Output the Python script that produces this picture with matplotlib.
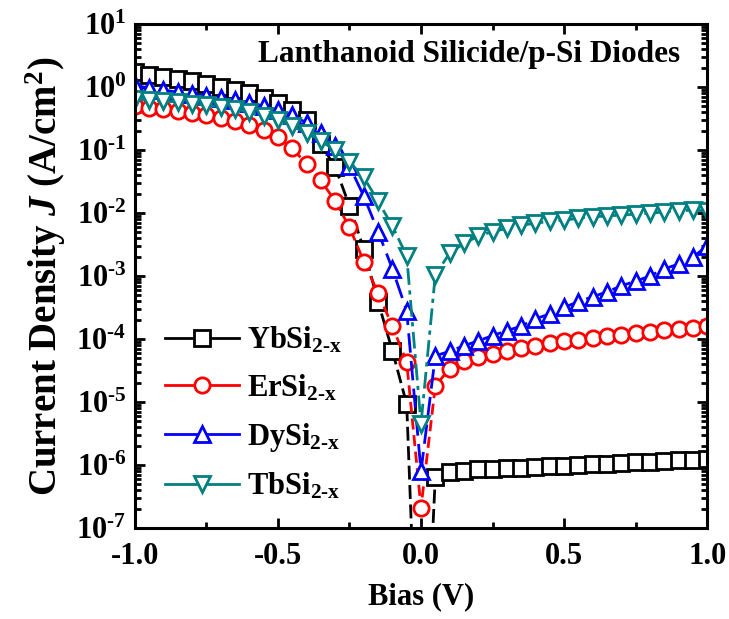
import numpy as np
import matplotlib
matplotlib.use("Agg")
import matplotlib.pyplot as plt
from matplotlib.lines import Line2D
from matplotlib.ticker import MultipleLocator, LogLocator, FuncFormatter, NullFormatter

plt.rcParams["font.family"] = "Liberation Serif"
plt.rcParams["font.weight"] = "bold"
plt.rcParams["mathtext.fontset"] = "custom"
plt.rcParams["mathtext.rm"] = "Liberation Serif:bold"
plt.rcParams["mathtext.bf"] = "Liberation Serif:bold"
plt.rcParams["mathtext.it"] = "Liberation Serif:bold:italic"
plt.rcParams["axes.unicode_minus"] = False

# ── bias points (V) ─────────────────────────────────────────────────────────
bias = [-1.00, -0.95, -0.90, -0.85, -0.80, -0.75, -0.70, -0.65, -0.60, -0.55,
        -0.50, -0.45, -0.40, -0.35, -0.30, -0.25, -0.20, -0.15, -0.10, -0.05,
        0.00, 0.05, 0.10, 0.15, 0.20, 0.25, 0.30, 0.35, 0.40, 0.45,
        0.50, 0.55, 0.60, 0.65, 0.70, 0.75, 0.80, 0.85, 0.90, 0.95, 1.00]

# ── current density (A/cm2) ────────────────────────────────────────────────
j_yb = [1.73, 1.55, 1.44, 1.34, 1.24, 1.12, 1.00, 0.90, 0.80, 0.67,
        0.56, 0.43, 0.30, 0.124, 0.054, 0.013, 2.7e-3, 3.9e-4, 6.5e-5, 9.3e-6,
        1e-11, 6.5e-7, 7.8e-7, 8.1e-7, 8.5e-7, 8.7e-7, 8.9e-7, 9.1e-7, 9.3e-7, 9.5e-7,
        9.7e-7, 1.0e-6, 1.02e-6, 1.04e-6, 1.07e-6, 1.10e-6, 1.12e-6, 1.15e-6, 1.18e-6, 1.20e-6, 1.23e-6]

j_er = [0.50, 0.46, 0.45, 0.42, 0.39, 0.36, 0.32, 0.29, 0.25, 0.21,
        0.16, 0.107, 0.060, 0.033, 0.0155, 6.0e-3, 1.7e-3, 5.4e-4, 1.6e-4, 4.3e-5,
        2.1e-7, 1.8e-5, 3.4e-5, 4.5e-5, 5.2e-5, 5.8e-5, 6.5e-5, 7.2e-5, 7.8e-5, 8.7e-5,
        9.3e-5, 9.7e-5, 1.04e-4, 1.12e-4, 1.16e-4, 1.25e-4, 1.30e-4, 1.40e-4, 1.45e-4, 1.50e-4, 1.60e-4]

j_dy = [1.08, 0.96, 0.90, 0.83, 0.77, 0.72, 0.67, 0.62, 0.56, 0.50,
        0.43, 0.36, 0.27, 0.186, 0.116, 0.056, 0.0186, 5.1e-3, 1.3e-3, 2.8e-4,
        7.9e-7, 5.4e-5, 6.4e-5, 7.8e-5, 9.4e-5, 1.13e-4, 1.36e-4, 1.6e-4, 2.1e-4, 2.5e-4,
        3.2e-4, 3.9e-4, 4.7e-4, 5.6e-4, 7.0e-4, 8.3e-4, 1.0e-3, 1.3e-3, 1.55e-3, 2.0e-3, 3.0e-3]

j_tb = [0.65, 0.62, 0.60, 0.58, 0.54, 0.52, 0.48, 0.45, 0.40, 0.35,
        0.30, 0.24, 0.186, 0.139, 0.10, 0.065, 0.037, 0.0155, 6.2e-3, 2.1e-3,
        4.5e-6, 1.05e-3, 2.3e-3, 3.3e-3, 4.3e-3, 5.1e-3, 5.7e-3, 6.4e-3, 6.9e-3, 7.4e-3,
        7.7e-3, 8.3e-3, 8.7e-3, 9.0e-3, 9.3e-3, 9.6e-3, 1.0e-2, 1.04e-2, 1.08e-2, 1.12e-2, 1.08e-2]

labels = [r"YbSi$_{\mathrm{2\text{-}x}}$", r"ErSi$_{\mathrm{2\text{-}x}}$",
          r"DySi$_{\mathrm{2\text{-}x}}$", r"TbSi$_{\mathrm{2\text{-}x}}$"]

series = [
    (j_yb, dict(color="black", marker="s", dashes=(5, 2))),
    (j_er, dict(color="#ff0000", marker="o", dashes=(4, 2))),
    (j_dy, dict(color="#0000ff", marker="^", dashes=(7, 3))),
    (j_tb, dict(color="#008080", marker="v", dashes=(6, 2, 1.5, 2))),
]

fig = plt.figure(figsize=(7.29, 6.19), dpi=100)
ax = fig.add_axes([0.185, 0.147, 0.785, 0.814])

handles = []
for (j, st), lab in zip(series, labels):
    ax.plot(bias, j, color=st["color"], marker=st["marker"], dashes=st["dashes"],
            lw=2.0, ms=11, mew=2.0, mfc="white", mec=st["color"])
    handles.append(Line2D([], [], color=st["color"], marker=st["marker"], ls="-",
                          lw=2.0, ms=11, mew=2.0, mfc="white", mec=st["color"]))

ax.set_yscale("log")
ax.set_xlim(-1.0, 1.0)
ax.set_ylim(1e-7, 1e1)

ax.xaxis.set_major_locator(MultipleLocator(0.5))
ax.xaxis.set_minor_locator(MultipleLocator(0.25))
ax.xaxis.set_major_formatter(FuncFormatter(lambda v, p: f"{v:.1f}"))
ax.yaxis.set_major_locator(LogLocator(base=10, numticks=20))
ax.yaxis.set_minor_locator(LogLocator(base=10, subs=np.arange(2, 10), numticks=20))
ax.yaxis.set_minor_formatter(NullFormatter())

def exp_fmt(v, pos):
    n = int(round(np.log10(v)))
    s = str(n).replace("-", r"\text{-}")
    return r"10$^{\mathrm{" + s + "}}$"

ax.yaxis.set_major_formatter(FuncFormatter(exp_fmt))

ax.tick_params(which="both", direction="in", top=True, right=True, width=2.0)
ax.tick_params(which="major", length=7, labelsize=22, pad=6)
ax.tick_params(axis="x", which="major", pad=10)
ax.tick_params(which="minor", length=4)
for sp in ax.spines.values():
    sp.set_linewidth(2.2)

ax.set_xlabel("Bias (V)", fontsize=22, fontweight="bold", labelpad=8)
ax.set_ylabel(r"Current Density $J$ (A/cm$^{\mathrm{2}}$)", fontsize=28,
              fontweight="bold", labelpad=6)

ax.text(0.953, 0.94, "Lanthanoid Silicide/p-Si Diodes", transform=ax.transAxes,
        ha="right", va="center", fontsize=22.5, fontweight="bold")

ax.legend(handles, labels, loc="lower left", bbox_to_anchor=(0.0, -0.008),
          frameon=False, fontsize=22, handlelength=2.4, labelspacing=0.57,
          handletextpad=0.26, borderaxespad=0.6)

fig.savefig("out.png", dpi=100)
